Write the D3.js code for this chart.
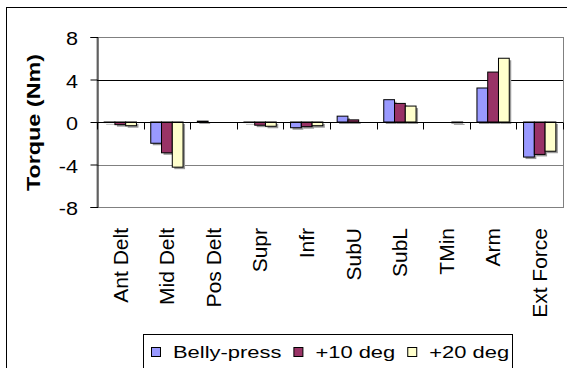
<!DOCTYPE html>
<html>
<head>
<meta charset="utf-8">
<script src="https://cdnjs.cloudflare.com/ajax/libs/d3/7.8.5/d3.min.js"></script>
<style>
  body { margin: 0; background: #fff; }
  svg { display: block; font-family: "Liberation Sans", Arial, sans-serif; }
</style>
</head>
<body>
<div id="chart"></div>
<script>
"use strict";

// data
let categories = ["Ant Delt", "Mid Delt", "Pos Delt", "Supr", "Infr", "SubU", "SubL", "TMin", "Arm", "Ext Force"];
let series_names = ["Belly-press", "+10 deg", "+20 deg"];
let belly_press = [-0.05, -2.0, 0.08, -0.05, -0.54, 0.55, 2.1, 0, 3.2, -3.3];
let plus_10_deg = [-0.25, -2.9, 0, -0.3, -0.44, 0.2, 1.75, 0, 4.7, -3.05];
let plus_20_deg = [-0.35, -4.25, 0, -0.4, -0.35, 0, 1.5, -0.08, 6.0, -2.75];
let y_ticks = [-8, -4, 0, 4, 8];

let colors = ["#9999FF", "#993366", "#FFFFCC"];
let series = [belly_press, plus_10_deg, plus_20_deg];

let width = 567, height = 368;
let plot = {left: 97, right: 563, top: 37, bottom: 207};

let svg = d3.select("#chart").append("svg").attr("width", width).attr("height", height);

// outer chart border
svg.append("rect").attr("x", 6.5).attr("y", 7.5).attr("width", 600).attr("height", 400)
    .attr("fill", "#fff").attr("stroke", "#000").attr("stroke-width", 1);

let x0 = d3.scaleBand().domain(categories).range([plot.left, plot.right])
    .paddingInner(0.307).paddingOuter(0.1535);
let x1 = d3.scaleBand().domain(d3.range(series.length)).range([0, x0.bandwidth()]);
let y = d3.scaleLinear().domain([-8, 8]).range([plot.bottom, plot.top]);

// plot area border (gray)
svg.append("rect").attr("x", plot.left).attr("y", plot.top + 0.5)
    .attr("width", plot.right - plot.left + 0.5).attr("height", plot.bottom - plot.top)
    .attr("fill", "none").attr("stroke", "#808080");

// gridlines
svg.append("g").selectAll("line").data(y_ticks.filter(d => d != 0 && Math.abs(d) != 8)).join("line")
    .attr("x1", plot.left).attr("x2", plot.right)
    .attr("y1", d => Math.round(y(d)) + 0.5).attr("y2", d => Math.round(y(d)) + 0.5)
    .attr("stroke", d => d > 0 ? "#000" : "#808080");

// bars
let bar_data = [];
categories.forEach((c, i) => {
    series.forEach((s, j) => bar_data.push({cat: c, idx: j, value: s[i]}));
});
let bars = svg.append("g");
bars.selectAll("rect.shadow").data(bar_data.filter(d => d.value != 0)).join("rect")
    .attr("class", "shadow")
    .attr("x", d => x0(d.cat) + x1(d.idx) + 2)
    .attr("y", d => Math.min(y(d.value), y(0)) + 2)
    .attr("width", x1.bandwidth())
    .attr("height", d => Math.abs(y(d.value) - y(0)))
    .attr("fill", "#999");
bars.selectAll("rect.bar").data(bar_data.filter(d => d.value != 0)).join("rect")
    .attr("class", "bar")
    .attr("x", d => x0(d.cat) + x1(d.idx))
    .attr("y", d => Math.min(y(d.value), y(0)))
    .attr("width", x1.bandwidth())
    .attr("height", d => Math.abs(y(d.value) - y(0)))
    .attr("fill", d => colors[d.idx])
    .attr("stroke", "#000").attr("stroke-width", 1);

// x axis on zero line, ticks at category boundaries
let zero_y = Math.round(y(0)) + 0.5;
svg.append("line").attr("x1", plot.left).attr("x2", plot.right)
    .attr("y1", zero_y).attr("y2", zero_y).attr("stroke", "#000");
let step = x0.step();
svg.append("g").selectAll("line").data(d3.range(categories.length + 1)).join("line")
    .attr("x1", i => Math.round(plot.left + i * step) + 0.5).attr("x2", i => Math.round(plot.left + i * step) + 0.5)
    .attr("y1", zero_y).attr("y2", zero_y + 7).attr("stroke", "#000");

// y axis
let y_axis = svg.append("g").attr("transform", `translate(${plot.left + 0.5},0)`)
    .call(d3.axisLeft(y).tickValues(y_ticks).tickSize(7).tickFormat(""));
y_axis.select(".domain").attr("stroke", "#000");
y_axis.selectAll(".tick line").attr("stroke", "#000");

svg.append("g").selectAll("text").data(y_ticks).join("text")
    .attr("transform", d => `translate(78,${y(d)}) scale(1.2,1)`)
    .attr("dy", "0.45em")
    .attr("text-anchor", "end")
    .attr("font-size", 18)
    .attr("fill", "#000")
    .text(d => d);

// category labels
svg.append("g").selectAll("text").data(categories).join("text")
    .attr("transform", d => `translate(${x0(d) + x0.bandwidth() / 2},228) rotate(-90)`)
    .attr("dy", "0.35em")
    .attr("text-anchor", "end")
    .attr("font-size", 21)
    .attr("fill", "#000")
    .text(d => d);

// y title
svg.append("text")
    .attr("transform", "translate(40,122.5) rotate(-90) scale(1.3,1)")
    .attr("text-anchor", "middle")
    .attr("font-size", 18)
    .attr("font-weight", "bold")
    .attr("fill", "#000")
    .text("Torque (Nm)");

// legend
let legend = svg.append("g");
legend.append("rect").attr("x", 143.5).attr("y", 334.5).attr("width", 369).attr("height", 60)
    .attr("fill", "#fff").attr("stroke", "#000");
let lx = 151;
series_names.forEach((name, i) => {
    legend.append("rect").attr("x", lx + 0.5).attr("y", 347.5).attr("width", 9).attr("height", 9)
        .attr("fill", colors[i]).attr("stroke", "#000");
    let t = legend.append("text")
        .attr("transform", `translate(${lx + 22},358) scale(1.29,1)`)
        .attr("font-size", 17)
        .attr("fill", "#000")
        .text(name);
    lx += 22 + t.node().getComputedTextLength() * 1.29 + 12;
});
</script>
</body>
</html>
